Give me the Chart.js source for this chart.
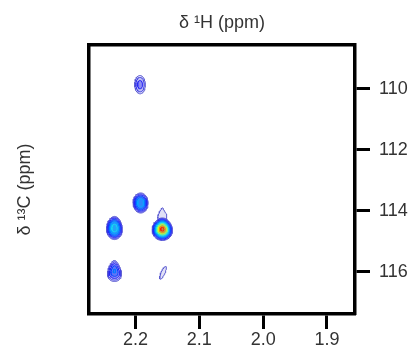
<!DOCTYPE html>
<html><head><meta charset="utf-8">
<script src="https://cdn.jsdelivr.net/npm/chart.js@4.4.1/dist/chart.umd.min.js"></script>
<style>html,body{margin:0;padding:0;background:#fff}#wrap{width:414px;height:346px;position:relative}</style>
</head><body><div id="wrap"><canvas id="c"></canvas></div>
<script>
// Tick labels
const xTicks = [2.2, 2.1, 2.0, 1.9];
const yTicks = [110, 112, 114, 116];
// Cross peaks
const peakH  = [2.193, 2.192, 2.233, 2.158, 2.158, 2.233, 2.157];          // 1H shift (ppm)
const peakC  = [109.86, 113.74, 114.56, 114.60, 114.13, 115.97, 116.03];   // 13C shift (ppm)
const peakI  = [0.12, 0.35, 0.45, 1.0, 0.06, 0.20, 0.055];                 // relative intensity
const peakWH = [0.0084, 0.0118, 0.0123, 0.0158, 0.0063, 0.0105, 0.0032];   // outer half-width, 1H (ppm)
const peakWC = [0.30, 0.33, 0.38, 0.37, 0.23, 0.345, 0.21];                // outer half-width, 13C (ppm)
const peakTaper = [0, 0, 0.1, 0.1, 0.6, 0.35, 0];
const peakTilt  = [0, 0, 0, 0, 0, 0, 0.02];
// Contour levels (fraction of the strongest peak)
const levels = [0.05, 0.07, 0.10, 0.14, 0.19, 0.26, 0.35, 0.46, 0.60, 0.78, 0.92];
const levelColors = ['#5a5ad0','#3c3ce6','#2626f5','#0a46ff','#0078ff','#00aaff','#14dcf0','#6cff96','#dcf01e','#ff8c00','#ff1e00'];

function contour(k, L) {
  const I = peakI[k];
  const f = Math.sqrt(Math.log(I / L) / Math.log(I / levels[0]));
  const pts = [], N = 48;
  for (let i = 0; i <= N; i++) {
    const t = 2 * Math.PI * i / N, s = Math.sin(t), c = Math.cos(t);
    const dy = peakWC[k] * f * s;
    const dx = peakWH[k] * f * c * (1 + peakTaper[k] * s) + peakTilt[k] * dy;
    pts.push({x: peakH[k] + dx, y: peakC[k] + dy});
  }
  return pts;
}

const datasets = [];
levels.forEach((L, li) => {
  peakH.forEach((h, k) => {
    if (peakI[k] <= L) return;
    datasets.push({
      data: contour(k, L),
      borderColor: levelColors[li],
      backgroundColor: levelColors[li] + (li < 2 ? '30' : '55'),
      borderWidth: 1,
      fill: 'shape',
      pointRadius: 0,
      tension: 0,
      order: levels.length - li
    });
  });
});

const FONT = {family: "'Liberation Sans', Arial, sans-serif", size: 18};
const xMin = 1.856, xMax = 2.273, yMin = 108.56, yMax = 117.38;
const border = {display: true, width: 3.5, color: '#000'};

new Chart(document.getElementById('c'), {
  type: 'line',
  data: {datasets},
  options: {
    responsive: true, maintainAspectRatio: false, animation: false, devicePixelRatio: 1,
    layout: {padding: 0},
    plugins: {legend: {display: false}, tooltip: {enabled: false}},
    scales: {
      x: {
        type: 'linear', position: 'bottom', reverse: true, min: xMin, max: xMax,
        afterFit: s => { s.height = 32; },
        afterBuildTicks: s => { s.ticks = xTicks.map(v => ({value: v})); },
        ticks: {callback: v => Number(v).toFixed(1), font: FONT, color: '#333', padding: 0, maxRotation: 0, autoSkip: false},
        grid: {drawOnChartArea: false, drawTicks: true, tickLength: 15, tickWidth: 3, tickColor: '#000'},
        border
      },
      x2: {
        type: 'linear', position: 'top', reverse: true, min: xMin, max: xMax,
        afterFit: s => { s.height = 45; },
        ticks: {display: false}, grid: {display: false}, border,
        title: {display: true, text: 'δ ¹H (ppm)', font: FONT, color: '#333', padding: {top: 12, bottom: 0}}
      },
      y: {
        type: 'linear', position: 'right', reverse: true, min: yMin, max: yMax,
        afterFit: s => { s.width = 59; },
        afterBuildTicks: s => { s.ticks = yTicks.map(v => ({value: v})); },
        ticks: {callback: v => String(v), font: FONT, color: '#333', padding: 9, autoSkip: false},
        grid: {drawOnChartArea: false, drawTicks: true, tickLength: 15, tickWidth: 3, tickColor: '#000'},
        border
      },
      y2: {
        type: 'linear', position: 'left', reverse: true, min: yMin, max: yMax,
        afterFit: s => { s.width = 89; },
        ticks: {display: false}, grid: {display: false}, border,
        title: {display: true, text: 'δ ¹³C (ppm)\u00a0\u00a0\u00a0\u00a0', font: FONT, color: '#333', padding: {top: 14, bottom: 0}}
      }
    }
  }
});
</script></body></html>
